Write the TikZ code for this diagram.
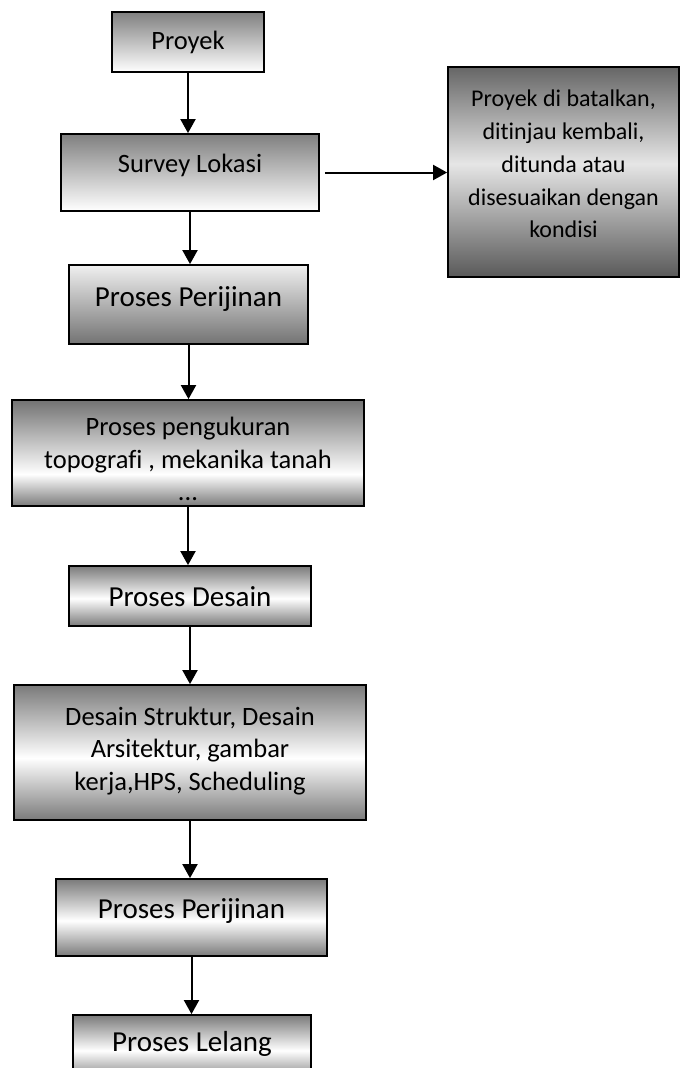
\documentclass[tikz,border=0pt]{standalone}
\usepackage{fontspec}
\setmainfont{Carlito}[Ligatures={NoCommon,NoContextual,NoRequired}]
\usetikzlibrary{arrows.meta}

% zero-width break that keeps letter pairs such as "ti" and "fi" apart
\newcommand{\nolig}{\kern0pt{}}

% Vertical gradients for the box fills (0bp = bottom, 100bp = top)
\pgfdeclareverticalshading{fadeDown}{100bp}{color(0bp)=(white); color(25bp)=(white); color(75bp)=(black!50); color(100bp)=(black!50)}
\pgfdeclareverticalshading{fadeUp}{100bp}{color(0bp)=(black!55); color(25bp)=(black!55); color(75bp)=(black!6); color(100bp)=(black!6)}
\pgfdeclareverticalshading{metalMid}{100bp}{color(0bp)=(black!52); color(25bp)=(black!52); color(48bp)=(white); color(75bp)=(black!52); color(100bp)=(black!52)}
\pgfdeclareverticalshading{metalLow}{100bp}{color(0bp)=(black!52); color(25bp)=(black!52); color(40bp)=(white); color(75bp)=(black!55); color(100bp)=(black!55)}
\pgfdeclareverticalshading{metalDark}{100bp}{color(0bp)=(black!65); color(25bp)=(black!65); color(52bp)=(black!10); color(75bp)=(black!60); color(100bp)=(black!60)}

\tikzset{
  box/.style={draw=black, line width=1.8pt, rectangle, inner sep=0pt},
  txt/.style={text=black, align=center, inner sep=0pt},
  arr/.style={line width=2pt, -{Triangle[length=14pt,width=15pt]}},
  big/.style={font=\fontsize{29}{34}\selectfont},
  mid/.style={font=\fontsize{26.5}{32.5}\selectfont},
  small/.style={font=\fontsize{24}{32.8}\selectfont}
}

\begin{document}
\begin{tikzpicture}[x=1pt, y=-1pt]
\useasboundingbox (0,0) rectangle (680,1068);
\clip (0,0) rectangle (680,1068);

% Boxes
\node[box, shading=fadeDown,  minimum width=152pt, minimum height=60pt]  (proyek)   at (188,42)    {};
\node[box, shading=fadeDown,  minimum width=258pt, minimum height=77pt]  (survey)   at (190,172.5) {};
\node[box, shading=metalDark, minimum width=231pt, minimum height=210pt] (batal)    at (563.5,172) {};
\node[box, shading=fadeUp,    minimum width=239pt, minimum height=79pt]  (izin1)    at (188.5,304.5) {};
\node[box, shading=metalLow,  minimum width=352pt, minimum height=106pt] (ukur)     at (188,453)   {};
\node[box, shading=metalMid,  minimum width=242pt, minimum height=60pt]  (desain)   at (190,596)   {};
\node[box, shading=metalMid,  minimum width=352pt, minimum height=135pt] (struktur) at (190,752.5) {};
\node[box, shading=metalMid,  minimum width=271pt, minimum height=77pt]  (izin2)    at (191.5,917.5) {};
\node[box, shading=metalMid,  minimum width=238pt, minimum height=66pt]  (lelang)   at (192,1048)  {};

% Texts
\node[txt, mid]   (proyek-t)   at (188,42)    {Proyek};
\node[txt, mid]   (survey-t)   at (190,165)   {Survey Lokasi};
\node[txt, small] (batal-t)    at (563.5,164) {Proyek di batalkan,\\dit\nolig injau kembali,\\dit\nolig unda atau\\disesuaikan dengan\\kondisi};
\node[txt, big]   (izin1-t)    at (188.5,299) {Proses Perijinan};
\node[txt, mid]   (ukur-t)     at (188,459)   {Proses pengukuran\\topograf\nolig i , mekanika tanah\\...};
\node[txt, big]   (desain-t)   at (190,597)   {Proses Desain};
\node[txt, mid]   (struktur-t) at (190,751)   {Desain Struktur, Desain\\Arsitektur, gambar\\kerja,HPS, Scheduling};
\node[txt, big]   (izin2-t)    at (191.5,911) {Proses Perijinan};
\node[txt, big]   (lelang-t)   at (192,1044)  {Proses Lelang};

% Connectors
\draw[arr] (proyek.south)   -- (proyek.south |- survey.north);
\draw[arr, shorten <=5pt] (survey.east) -- (survey.east -| batal.west);
\draw[arr] (survey.south)   -- (survey.south |- izin1.north);
\draw[arr] (izin1.south)    -- (izin1.south |- ukur.north);
\draw[arr] (ukur.south)     -- (ukur.south |- desain.north);
\draw[arr] (desain.south)   -- (desain.south |- struktur.north);
\draw[arr] (struktur.south) -- (struktur.south |- izin2.north);
\draw[arr] (izin2.south)    -- (izin2.south |- lelang.north);
\end{tikzpicture}
\end{document}
